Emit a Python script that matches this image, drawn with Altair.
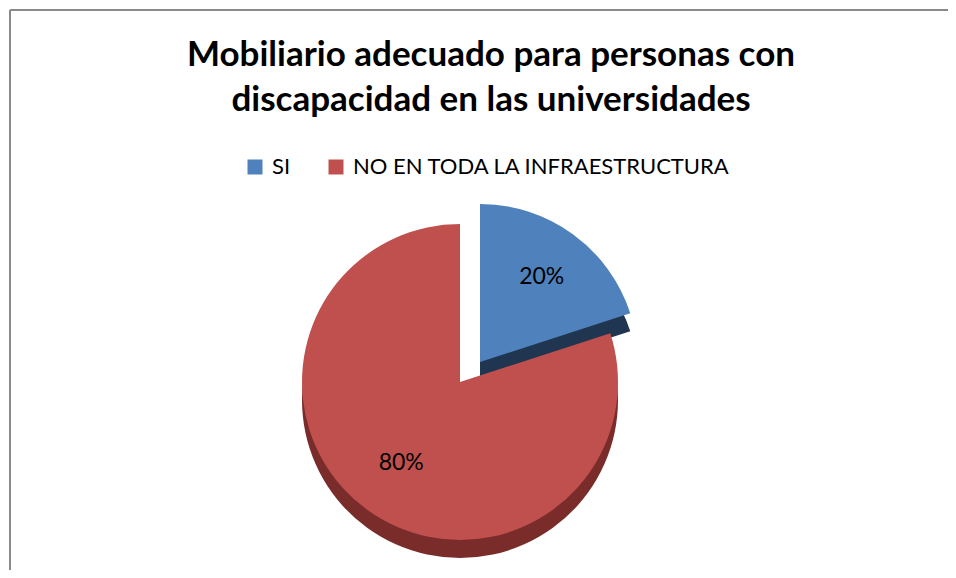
import math
import altair as alt
import pandas as pd

# ---- data ----
categories = ["SI", "NO EN TODA LA INFRAESTRUCTURA"]
values = [20, 80]
labels = ["20%", "80%"]
order = [1, 2]
colors = ["#4F81BD", "#C0504D"]
side_colors = ["#1F3550", "#7A2C2A"]
title_lines = ["Mobiliario adecuado para personas con", "discapacidad en las universidades"]

df = pd.DataFrame({"category": categories, "value": values, "label": labels, "order": order})

# ---- layout / style ----
W, H = 938, 560
CX, CY, R = 450, 372, 158
EXPLODE = {"SI": (20, -20), "NO EN TODA LA INFRAESTRUCTURA": (0, 0)}
DEPTH = 18
FONT = "Lato"

theta_scale = alt.Scale(domain=[0, 1], range=[0, 2 * math.pi])

base = (
    alt.Chart(df)
    .transform_joinaggregate(total="sum(value)")
    .transform_window(cum="sum(value)", sort=[alt.SortField("order")], frame=[None, 0])
    .transform_calculate(
        t0="(datum.cum - datum.value) / datum.total",
        t1="datum.cum / datum.total",
        tm="(datum.cum - datum.value / 2) / datum.total",
    )
)

color_enc = alt.Color(
    "category:N",
    scale=alt.Scale(domain=categories, range=colors),
    sort=categories,
    legend=alt.Legend(
        title=None,
        orient="none",
        direction="horizontal",
        legendX=234,
        legendY=146,
        padding=0,
        symbolType="square",
        symbolSize=225,
        symbolStrokeWidth=0,
        labelFont=FONT,
        labelFontSize=22,
        labelColor="#000000",
        labelOffset=6,
        columnPadding=34,
        labelLimit=600,
    ),
)

layers = []
for cat, side in [(categories[0], side_colors[0]), (categories[1], side_colors[1])]:
    dx, dy = EXPLODE[cat]
    sub = base.transform_filter(alt.datum.category == cat)
    layers.append(
        sub.mark_arc(radius=R, fill=side, stroke=None).encode(
            theta=alt.Theta("t0:Q", scale=theta_scale),
            theta2="t1:Q",
            x=alt.value(CX + dx),
            y=alt.value(CY + dy + DEPTH),
        )
    )
    layers.append(
        sub.mark_arc(radius=R).encode(
            theta=alt.Theta("t0:Q", scale=theta_scale),
            theta2="t1:Q",
            color=color_enc,
            x=alt.value(CX + dx),
            y=alt.value(CY + dy),
        )
    )

for cat in categories:
    dx, dy = EXPLODE[cat]
    sub = base.transform_filter(alt.datum.category == cat)
    layers.append(
        sub.mark_text(radius=105 if cat == "SI" else 100, font=FONT, fontSize=23, color="#000000").encode(
            theta=alt.Theta("tm:Q", scale=theta_scale),
            text="label:N",
            x=alt.value(CX + dx),
            y=alt.value(CY + dy),
        )
    )

title = alt.Chart(alt.Data(values=[{"k": 1}])).mark_text(
    text=title_lines,
    font=FONT,
    fontSize=35,
    fontWeight="bold",
    color="#000000",
    align="center",
    baseline="alphabetic",
    lineHeight=45,
).encode(x=alt.value(481), y=alt.value(56))

border_left = alt.Chart(alt.Data(values=[{"k": 1}])).mark_rule(color="#8A8A8A", strokeWidth=2).encode(
    x=alt.value(0), y=alt.value(0), y2=alt.value(H + 10)
)
border_top = alt.Chart(alt.Data(values=[{"k": 1}])).mark_rule(color="#8A8A8A", strokeWidth=2).encode(
    x=alt.value(0), x2=alt.value(W + 10), y=alt.value(0)
)

chart = (
    alt.layer(border_left, border_top, title, *layers)
    .properties(
        width=W,
        height=H,
        autosize=alt.AutoSizeParams(type="none"),
        padding={"left": 2, "top": 2, "right": 0, "bottom": 0},
        background="white",
    )
    .configure_view(stroke=None)
)

chart.save("out.html", embed_options={"renderer": "svg", "actions": False})
